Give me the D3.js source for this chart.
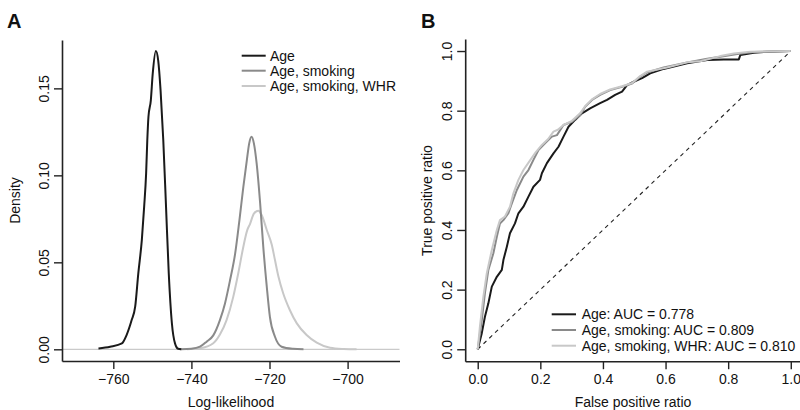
<!DOCTYPE html>
<html>
<head>
<meta charset="utf-8">
<script src="https://cdn.jsdelivr.net/npm/d3@7"></script>
<style>
  html, body { margin: 0; padding: 0; background: #fff; }
  svg { display: block; font-family: "Liberation Sans", Arial, Helvetica, sans-serif; }
</style>
</head>
<body>
<svg id="chart" width="800" height="410"></svg>
<script>
// ---------- Panel A data: density of log-likelihood ----------
const ageLL   = [-763.8,-760.8,-757.8,-756.6,-755.3,-754.4,-753.6,-752.7,-752.1,-751.6,-751.3,-751.0,-750.4,-749.9,-749.1,-748.5,-747.9,-747.2,-746.5,-745.8,-745.0,-744.2,-743.4,-742.6];
const ageDens = [0.0005,0.0015,0.0034,0.0082,0.0168,0.0245,0.0437,0.0628,0.082,0.101,0.120,0.1337,0.143,0.1586,0.1715,0.166,0.149,0.120,0.082,0.0437,0.015,0.0034,0.0003,0.0];

const smkLL   = [-742.8,-740.0,-737.8,-736.1,-734.4,-732.7,-731.4,-730.1,-728.8,-727.7,-726.7,-725.8,-725.2,-724.6,-724.0,-723.3,-722.4,-721.6,-720.7,-719.9,-718.6,-716.9,-714.0,-711.3];
const smkDens = [0.0,0.0003,0.0015,0.0044,0.008,0.0168,0.0264,0.0398,0.055,0.0743,0.0934,0.1088,0.1184,0.1222,0.1184,0.107,0.084,0.059,0.036,0.0187,0.0072,0.0015,0.0003,0.0];

const whrLL   = [-741.2,-737.8,-734.4,-732.7,-731.0,-729.3,-728.0,-726.7,-725.7,-725.0,-724.0,-722.9,-722.0,-720.7,-719.4,-718.6,-717.7,-716.5,-714.8,-713.0,-710.5,-707.9,-704.5,-701.0,-697.7];
const whrDens = [0.0,0.0006,0.0035,0.0085,0.0168,0.030,0.0437,0.059,0.0685,0.072,0.078,0.0797,0.0772,0.0686,0.060,0.0513,0.0417,0.0322,0.0226,0.0149,0.0082,0.0038,0.0009,0.0002,0.0];

const densXTicks = [-760, -740, -720, -700];
const densYTicks = [0.00, 0.05, 0.10, 0.15];
const densLegend = ["Age", "Age, smoking", "Age, smoking, WHR"];

// ---------- Panel B data: ROC curves ----------
const ageFPR = [0,0.013,0.023,0.034,0.045,0.061,0.077,0.082,0.093,0.103,0.119,0.130,0.146,0.162,0.178,0.199,0.205,0.221,0.242,0.258,0.274,0.290,0.311,0.333,0.359,0.391,0.413,0.439,0.461,0.477,0.498,0.525,0.551,0.594,0.669,0.733,0.786,0.834,0.839,0.882,0.925,1.0];
const ageTPR = [0,0.054,0.109,0.154,0.210,0.243,0.266,0.299,0.344,0.389,0.422,0.456,0.478,0.512,0.545,0.568,0.590,0.624,0.657,0.679,0.713,0.746,0.769,0.791,0.808,0.825,0.836,0.853,0.864,0.886,0.897,0.909,0.925,0.940,0.959,0.970,0.972,0.972,0.987,0.994,0.998,1.0];

const smkFPR = [0,0.013,0.023,0.034,0.050,0.061,0.071,0.082,0.098,0.109,0.125,0.146,0.162,0.178,0.194,0.215,0.237,0.253,0.274,0.301,0.327,0.343,0.365,0.391,0.423,0.461,0.493,0.519,0.541,0.594,0.669,0.733,0.775,0.829,0.882,1.0];
const smkTPR = [0,0.098,0.188,0.266,0.322,0.377,0.422,0.433,0.456,0.489,0.534,0.579,0.601,0.635,0.668,0.691,0.713,0.718,0.752,0.763,0.785,0.813,0.836,0.853,0.869,0.880,0.891,0.914,0.928,0.945,0.962,0.974,0.981,0.990,0.997,1.0];

const whrFPR = [0,0.007,0.018,0.029,0.045,0.061,0.071,0.087,0.103,0.114,0.130,0.146,0.165,0.185,0.205,0.225,0.242,0.256,0.274,0.301,0.327,0.343,0.365,0.391,0.423,0.461,0.493,0.519,0.541,0.605,0.669,0.711,0.775,0.818,0.871,1.0];
const whrTPR = [0,0.076,0.176,0.255,0.333,0.400,0.433,0.445,0.478,0.523,0.568,0.601,0.630,0.660,0.685,0.705,0.730,0.736,0.752,0.766,0.791,0.815,0.838,0.856,0.871,0.882,0.893,0.916,0.931,0.945,0.962,0.966,0.983,0.992,0.998,1.0];

const rocTicks  = [0.0, 0.2, 0.4, 0.6, 0.8, 1.0];
const rocLegend = ["Age: AUC = 0.778", "Age, smoking: AUC = 0.809", "Age, smoking, WHR: AUC = 0.810"];

const seriesColors = ["#1a1a1a", "#8a8a8a", "#c8c8c8"];

// ---------- drawing ----------
const svg = d3.select("#chart");
const FONT = 14;
const AXIS_COLOR = "#222";

function zip(xs, ys) { return xs.map((x, i) => [x, ys[i]]); }

function drawAxes(g, x, y, xTicks, yTicks, xFmt, yFmt) {
  const xa = g.append("g").attr("transform", `translate(0,${y.range()[0]})`)
    .call(d3.axisBottom(x).tickValues(xTicks).tickSize(8).tickSizeOuter(0).tickFormat(xFmt));
  const ya = g.append("g").attr("transform", `translate(${x.range()[0]},0)`)
    .call(d3.axisLeft(y).tickValues(yTicks).tickSize(8).tickSizeOuter(0).tickFormat(yFmt));
  [xa, ya].forEach(a => {
    a.select(".domain").attr("stroke", AXIS_COLOR).attr("stroke-width", 1.6);
    a.selectAll(".tick line").attr("stroke", AXIS_COLOR).attr("stroke-width", 1.4);
    a.selectAll("text").attr("fill", "#111").attr("font-size", FONT)
      .attr("font-family", "Liberation Sans, Arial, sans-serif");
  });
  xa.selectAll(".tick text").attr("y", 18.3).attr("dy", null)
    .attr("dominant-baseline", "central");
  ya.selectAll(".tick text")
    .attr("x", null).attr("dy", null)
    .attr("text-anchor", "middle")
    .attr("dominant-baseline", "central")
    .attr("transform", "translate(-18.4,0) rotate(-90)");
}

function drawLegend(g, x0, x1, xt, ys, labels) {
  labels.forEach((lab, i) => {
    g.append("line").attr("x1", x0).attr("x2", x1).attr("y1", ys[i]).attr("y2", ys[i])
      .attr("stroke", seriesColors[i]).attr("stroke-width", 2);
    g.append("text").attr("x", xt).attr("y", ys[i]).attr("dominant-baseline", "central")
      .attr("font-size", FONT).attr("fill", "#111").text(lab);
  });
}

// Panel A
{
  const g = svg.append("g");
  const x = d3.scaleLinear().domain([-773.14, -686.71]).range([62, 399.5]);
  const y = d3.scaleLinear().domain([-0.00672, 0.1778]).range([361, 40]);

  // zero reference line
  g.append("line").attr("x1", x.range()[0]).attr("x2", x.range()[1])
    .attr("y1", y(0)).attr("y2", y(0)).attr("stroke", "#bdbdbd").attr("stroke-width", 1);

  const line = d3.line().x(d => x(d[0])).y(d => y(d[1])).curve(d3.curveMonotoneX);
  const series = [zip(ageLL, ageDens), zip(smkLL, smkDens), zip(whrLL, whrDens)];
  [2, 1, 0].forEach(i => {
    g.append("path").datum(series[i]).attr("d", line).attr("fill", "none")
      .attr("stroke", seriesColors[i]).attr("stroke-width", 2).attr("stroke-linejoin", "round");
  });

  drawAxes(g, x, y, densXTicks, densYTicks,
    d => (d < 0 ? "\u2212" + Math.abs(d) : String(d)),
    d => d3.format(".2f")(d));

  g.append("text").attr("x", 231).attr("y", 401.7).attr("text-anchor", "middle")
    .attr("dominant-baseline", "central").attr("font-size", FONT).attr("fill", "#111").text("Log-likelihood");
  g.append("text").attr("transform", "translate(15,200.5) rotate(-90)").attr("text-anchor", "middle")
    .attr("dominant-baseline", "central").attr("font-size", FONT).attr("fill", "#111").text("Density");

  drawLegend(g, 241.7, 265.7, 270, [55.7, 70.7, 86], densLegend);

  g.append("text").attr("x", 7).attr("y", 28.3).attr("font-size", 20).attr("font-weight", "bold")
    .attr("fill", "#111").text("A");
}

// Panel B
{
  const g = svg.append("g");
  const x = d3.scaleLinear().domain([-0.04, 1.04]).range([465.2, 803.3]);
  const y = d3.scaleLinear().domain([-0.04, 1.04]).range([361.2, 39.1]);

  g.append("line").attr("x1", x(0)).attr("y1", y(0)).attr("x2", x(1)).attr("y2", y(1))
    .attr("stroke", "#222").attr("stroke-width", 1.1).attr("stroke-dasharray", "4,4");

  const line = d3.line().x(d => x(d[0])).y(d => y(d[1]));
  const series = [zip(ageFPR, ageTPR), zip(smkFPR, smkTPR), zip(whrFPR, whrTPR)];
  [0, 1, 2].forEach(i => {
    g.append("path").datum(series[i]).attr("d", line).attr("fill", "none")
      .attr("stroke", seriesColors[i]).attr("stroke-width", 2).attr("stroke-linejoin", "round");
  });

  drawAxes(g, x, y, rocTicks, rocTicks, d3.format(".1f"), d3.format(".1f"));

  g.append("text").attr("x", 633).attr("y", 401.7).attr("text-anchor", "middle")
    .attr("dominant-baseline", "central").attr("font-size", FONT).attr("fill", "#111").text("False positive ratio");
  g.append("text").attr("transform", "translate(427,200.5) rotate(-90)").attr("text-anchor", "middle")
    .attr("dominant-baseline", "central").attr("font-size", FONT).attr("fill", "#111").text("True positive ratio");

  drawLegend(g, 551.7, 576, 581.7, [314.3, 330, 345.7], rocLegend);

  g.append("text").attr("x", 421).attr("y", 28.3).attr("font-size", 20).attr("font-weight", "bold")
    .attr("fill", "#111").text("B");
}
</script>
</body>
</html>
